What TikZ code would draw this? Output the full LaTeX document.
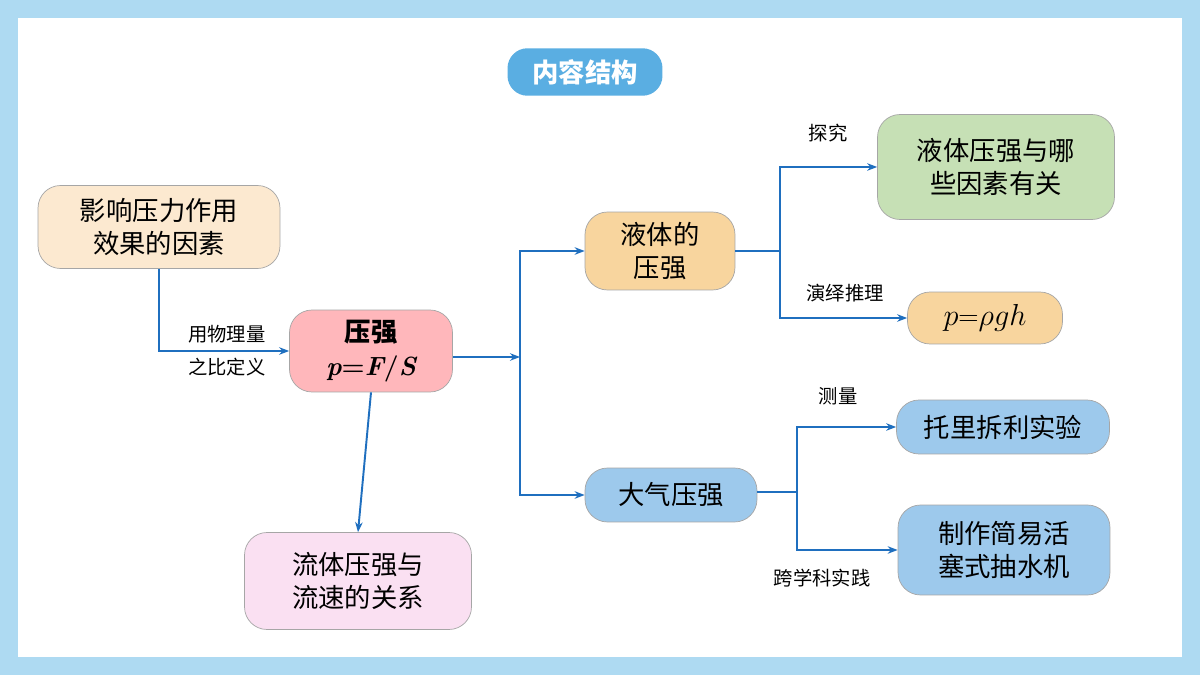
\documentclass[tikz,border=0pt]{standalone}
\usepackage{fontspec}
\newfontfamily\cjk{Noto Sans CJK SC}
\usetikzlibrary{positioning}
\usetikzlibrary{arrows.meta}
\definecolor{linkblue}{HTML}{1F6FBF}
\definecolor{peach}{HTML}{FCE9D0}
\definecolor{rosy}{HTML}{FFB7BB}
\definecolor{lilac}{HTML}{FAE0F2}
\definecolor{apricot}{HTML}{F8D59E}
\definecolor{skyfill}{HTML}{9DC9EC}
\definecolor{leaf}{HTML}{C6E0B5}
\definecolor{frame}{HTML}{AEDAF2}
\definecolor{pill}{HTML}{5AAEE2}
\begin{document}
\begin{tikzpicture}[x=0.02cm, y=-0.02cm,
        topic/.style={draw=gray!70, rounded corners=4.5mm, align=center, inner sep=2pt,
            font=\cjk\fontsize{15}{19}\selectfont},
        tag/.style={font=\cjk\fontsize{11}{13}\selectfont, inner sep=1pt},
        link/.style={draw=linkblue, line width=1.1pt},
        arrowlink/.style={link, -{Stealth[length=2mm]}}]
        \fill[frame] (0,0) rectangle (1200,675);
        \fill[white] (18,18) rectangle (1182,657);
        \useasboundingbox (0,0) rectangle (1200,675);

        \node[fill=pill, rounded corners=4mm, minimum width=3.1cm, minimum height=0.95cm,
            text=white, font=\cjk\bfseries\fontsize{15}{18}\selectfont] (title) at (585,72) {内容结构};

        \node[topic, fill=peach, minimum width=4.84cm, minimum height=1.66cm] (factor) at (159,227) {影响压力作用\\效果的因素};
        \node[topic, fill=rosy, minimum width=3.26cm, minimum height=1.64cm] (pressure) at (371,351) {\textbf{压强}\\{\rmfamily\bfseries\itshape p\upshape=\itshape F\upshape/\itshape S}};
        \node[topic, fill=lilac, minimum width=4.54cm, minimum height=1.94cm] (fluid) at (358,581) {流体压强与\\流速的关系};
        \node[topic, fill=apricot, minimum width=3cm, minimum height=1.56cm] (liquid) at (660,251) {液体的\\压强};
        \node[topic, fill=skyfill, minimum width=3.44cm, minimum height=1.08cm] (air) at (671,495) {大气压强};
        \node[topic, fill=leaf, minimum width=4.74cm, minimum height=2.1cm] (depends) at (996,167) {液体压强与哪\\些因素有关};
        \node[topic, fill=apricot, minimum width=3.1cm, minimum height=1.04cm, font=\fontsize{16}{19}\selectfont] (formula) at (985,318) {$p$=$\rho gh$};
        \node[topic, fill=skyfill, minimum width=4.26cm, minimum height=1.08cm] (torricelli) at (1003,427) {托里拆利实验};
        \node[topic, fill=skyfill, minimum width=4.24cm, minimum height=1.8cm] (pump) at (1004,550) {制作简易活\\塞式抽水机};

        \coordinate (bend) at (factor.south |- pressure.west);
        \coordinate (fork) at (520,357);
        \coordinate (liquid fork) at (780,251);
        \coordinate (air fork) at (797,492);

        \draw[arrowlink] (factor.south) -- (bend) -- (pressure.west |- bend);
        \node[tag, above=3pt of bend, xshift=1.36cm] (ratio a) {用物理量};
        \node[tag, below=3pt of bend, xshift=1.36cm] (ratio b) {之比定义};

        \draw[arrowlink] (pressure.east |- fork) -- (fork);
        \draw[arrowlink] (fork) |- (liquid.west);
        \draw[arrowlink] (fork) |- (air.west);
        \draw[arrowlink] (pressure.south) -- (fluid.north);

        \draw[link] (liquid.east) -- (liquid fork);
        \draw[arrowlink] (liquid fork) |- (depends.west);
        \draw[arrowlink] (liquid fork) |- (formula.west);
        \node[tag] (explore) at (828,133) {探究};
        \node[tag] (deduce) at (845,293) {演绎推理};

        \draw[link] (air.east |- air fork) -- (air fork);
        \draw[arrowlink] (air fork) |- (torricelli.west);
        \draw[arrowlink] (air fork) |- (pump.west);
        \node[tag] (measure) at (838,396) {测量};
        \node[tag] (practice) at (822,578) {跨学科实践};
    \end{tikzpicture}
\end{document}
